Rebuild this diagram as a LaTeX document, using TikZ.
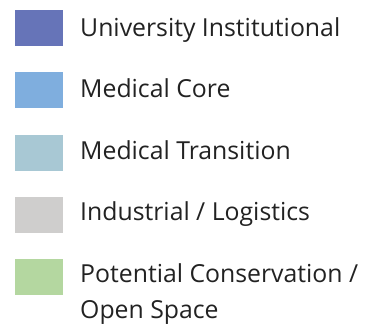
\documentclass[tikz,border=0pt]{standalone}
\usepackage{fontspec}
\setmainfont{Open Sans}
\definecolor{cuni}{HTML}{6674B8}
\definecolor{cmed}{HTML}{7FAEDE}
\definecolor{ctra}{HTML}{A8C8D4}
\definecolor{cind}{HTML}{CFCECD}
\definecolor{cgrn}{HTML}{B4D7A0}
\definecolor{ctxt}{HTML}{222222}
\begin{document}
\begin{tikzpicture}[x=1pt,y=-1pt,
  swatch/.style={minimum width=48pt,minimum height=36pt,inner sep=0pt,anchor=north west,draw=none},
  lbl/.style={anchor=base west,inner sep=0pt,text=ctxt,font=\fontsize{24.8}{35}\selectfont}]
\useasboundingbox (0,0) rectangle (379,325);
\node[swatch,fill=cuni] (s1) at (15,10) {};
\node[swatch,fill=cmed] (s2) at (15,72) {};
\node[swatch,fill=ctra] (s3) at (15,135) {};
\node[swatch,fill=cind] (s4) at (15,197) {};
\node[swatch,fill=cgrn] (s5) at (15,259) {};
\node[lbl] (t1) at (80,36) {University Institutional};
\node[lbl] (t2) at (80,97) {Medical Core};
\node[lbl] (t3) at (80,159) {Medical Transition};
\node[lbl] (t4) at (80,220) {Industrial / Logistics};
\node[lbl] (t5) at (80,282) {Potential Conservation /};
\node[lbl] (t6) at (80,318) {Open Space};
\end{tikzpicture}
\end{document}
